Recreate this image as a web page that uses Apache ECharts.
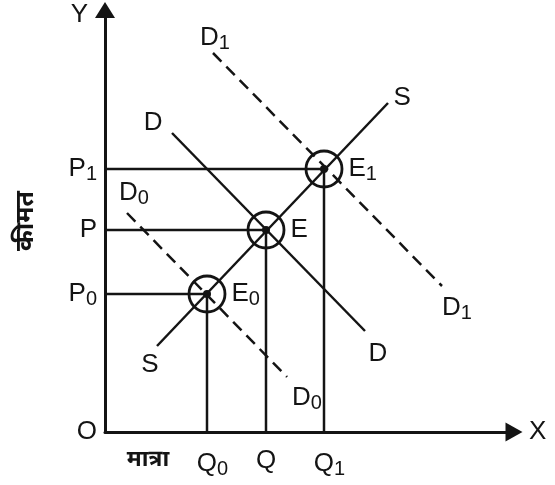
<!DOCTYPE html>
<html>
<head>
<meta charset="utf-8">
<script src="https://cdn.jsdelivr.net/npm/echarts@6/dist/echarts.min.js"></script>
<style>
html,body{margin:0;padding:0;background:#fff}
#chart{width:555px;height:485px}
</style>
</head>
<body>
<div id="chart"></div>
<script>
// equilibrium points E0, E, E1 as [quantity, price]
var eqPoints = [[102, 138], [161, 202], [219, 263]];
var eqSubs = ['0', '', '1'];
// curve end points [quantity, price]
var supplyS = [[52, 86], [283, 329]];
var demandD = [[67, 299], [260, 101]];
var demandD1 = [[108, 379], [337, 146]];
var demandD0 = [[22, 219], [182, 55]];
var xMax = 409;
var yMax = 422;

var INK = '#141414';
var FONT = '"Liberation Sans", Arial, sans-serif';
var HINDI = '"Noto Sans Devanagari", "Noto Sans", sans-serif';

function sub(base, s) {
    return s ? base + '{s|' + s + '}' : base;
}
var rich = {
    s: {fontSize: 20, fontFamily: FONT, color: INK, padding: [11, 0, 0, 0]},
    sp: {width: 11}
};
var labelBase = {fontSize: 26, fontFamily: FONT, color: INK, rich: rich};

function curve(pts, name, subTxt, dashed, labelPos) {
    return {
        type: 'line',
        silent: true,
        symbol: 'circle',
        symbolSize: 1,
        showSymbol: true,
        itemStyle: {color: 'rgba(0,0,0,0)'},
        lineStyle: {color: INK, width: 2.5, type: dashed ? [12, 7] : 'solid'},
        data: pts.map(function (p, i) {
            return {
                value: p,
                label: Object.assign({show: true, formatter: sub(name, subTxt)}, labelBase, labelPos[i])
            };
        })
    };
}

var chart = echarts.init(document.getElementById('chart'));

var guides = eqPoints.map(function (p) {
    return {
        type: 'line',
        silent: true,
        symbol: 'none',
        lineStyle: {color: INK, width: 2.5},
        data: [[0, p[1]], [p[0], p[1]], [p[0], 0]]
    };
});

chart.setOption({
    animation: false,
    backgroundColor: '#fff',
    textStyle: {fontFamily: FONT},
    grid: {left: 105, right: 41, top: 10, bottom: 53},
    xAxis: {
        type: 'value',
        min: 0,
        max: xMax,
        name: 'X',
        nameLocation: 'end',
        nameGap: 15,
        nameTextStyle: {fontSize: 26, color: INK, fontFamily: FONT},
        splitLine: {show: false},
        axisTick: {show: false},
        axisLine: {
            lineStyle: {color: INK, width: 3},
            symbol: ['none', 'triangle'],
            symbolSize: [19, 17]
        },
        axisLabel: Object.assign({
            customValues: eqPoints.map(function (p) { return p[0]; }),
            margin: 16,
            formatter: function (v) {
                var i = eqPoints.findIndex(function (p) { return p[0] === v; });
                return eqSubs[i] ? '{sp|}' + sub('Q', eqSubs[i]) : 'Q';
            }
        }, labelBase)
    },
    yAxis: {
        type: 'value',
        min: 0,
        max: yMax,
        name: 'Y',
        nameLocation: 'end',
        nameGap: 8,
        nameTextStyle: {fontSize: 26, color: INK, fontFamily: FONT, align: 'right', verticalAlign: 'top', padding: [0, 17, 0, 0]},
        splitLine: {show: false},
        axisTick: {show: false},
        axisLine: {
            lineStyle: {color: INK, width: 3},
            symbol: ['none', 'triangle'],
            symbolSize: [20, 16]
        },
        axisLabel: Object.assign({
            customValues: [0].concat(eqPoints.map(function (p) { return p[1]; })),
            margin: 8,
            formatter: function (v) {
                if (v === 0) return 'O';
                var i = eqPoints.findIndex(function (p) { return p[1] === v; });
                return sub('P', eqSubs[i]);
            }
        }, labelBase)
    },
    graphic: [{
        type: 'text',
        x: 28,
        y: 221,
        rotation: Math.PI / 2,
        style: {
            text: 'कीमत',
            fontSize: 25,
            fontWeight: 'bold',
            fontFamily: HINDI,
            fill: INK,
            align: 'center',
            verticalAlign: 'middle'
        }
    }, {
        type: 'text',
        x: 148,
        y: 462,
        style: {
            text: 'मात्रा',
            fontSize: 23,
            fontWeight: 'bold',
            fontFamily: HINDI,
            fill: INK,
            align: 'center',
            verticalAlign: 'middle'
        }
    }],
    series: guides.concat([
        curve(supplyS, 'S', '', false, [
            {position: 'bottom', offset: [-7, 0]},
            {position: 'right', offset: [0, -5]}
        ]),
        curve(demandD, 'D', '', false, [
            {position: 'left', offset: [-4, -10]},
            {position: 'bottom', offset: [13, 4]}
        ]),
        curve(demandD1, 'D', '1', true, [
            {position: 'top', offset: [2, 6]},
            {position: 'bottom', offset: [15, 1]}
        ]),
        curve(demandD0, 'D', '0', true, [
            {position: 'top', offset: [7, 1]},
            {position: 'bottom', offset: [20, 0]}
        ]),
        {
            type: 'scatter',
            silent: true,
            symbolSize: 36,
            itemStyle: {color: 'rgba(0,0,0,0)', borderColor: INK, borderWidth: 2.8, opacity: 1},
            label: Object.assign({
                show: true,
                position: 'right',
                distance: 5,
                formatter: function (p) { return sub('E', eqSubs[p.dataIndex]); }
            }, labelBase),
            data: eqPoints
        },
        {
            type: 'scatter',
            silent: true,
            symbolSize: 8,
            itemStyle: {color: INK, opacity: 1},
            data: eqPoints
        }
    ])
});
</script>
</body>
</html>
